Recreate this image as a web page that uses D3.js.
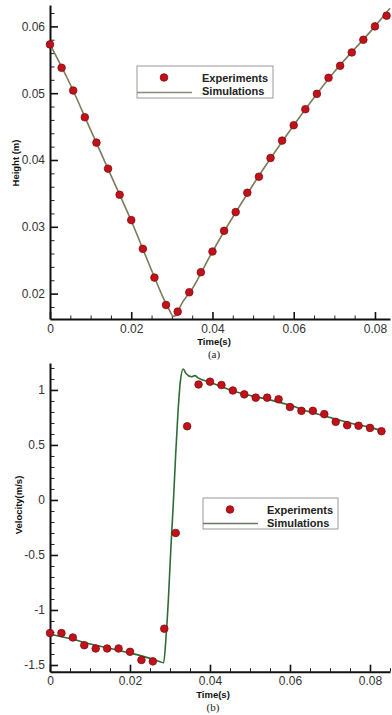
<!DOCTYPE html>
<html>
<head>
<meta charset="utf-8">
<script src="https://cdn.jsdelivr.net/npm/d3@7"></script>
<style>
  html, body { margin: 0; padding: 0; background: #fff; }
  svg { display: block; }
</style>
</head>
<body>
<svg id="chart" width="392" height="715"></svg>
<script>
// ---- Panel (a): bubble height ----
const timeExp = [0, 0.00286, 0.00571, 0.00857, 0.01143, 0.01429, 0.01714, 0.02, 0.02286, 0.02571,
                 0.02857, 0.03143, 0.03429, 0.03714, 0.04, 0.04286, 0.04571, 0.04857, 0.05143, 0.05429,
                 0.05714, 0.06, 0.06286, 0.06571, 0.06857, 0.07143, 0.07429, 0.07714, 0.08, 0.08286];
const heightExp = [0.0573, 0.0538, 0.0504, 0.0464, 0.0426, 0.0387, 0.0348, 0.0310, 0.0267, 0.0224,
                   0.0183, 0.0173, 0.0202, 0.0232, 0.0263, 0.0294, 0.0322, 0.0351, 0.0375, 0.0403,
                   0.0429, 0.0452, 0.0476, 0.0499, 0.0523, 0.0541, 0.0561, 0.0580, 0.0600, 0.0616];
const timeSimA = [0, 0.005, 0.01, 0.015, 0.02, 0.025, 0.028, 0.0295, 0.0303, 0.0312, 0.032, 0.035,
                  0.04, 0.05, 0.06, 0.07, 0.08, 0.0837];
const heightSim = [0.0573, 0.0513, 0.0445, 0.0377, 0.0309, 0.0235, 0.0192, 0.0174, 0.0166, 0.0168,
                   0.0180, 0.0207, 0.0263, 0.0363, 0.0452, 0.0532, 0.0600, 0.0627];

// ---- Panel (b): velocity ----
const velocityExp = [-1.21, -1.21, -1.25, -1.32, -1.35, -1.35, -1.35, -1.38, -1.455, -1.467,
                     -1.17, -0.30, 0.67, 1.05, 1.075, 1.045, 0.995, 0.96, 0.93, 0.93,
                     0.915, 0.845, 0.81, 0.81, 0.78, 0.71, 0.68, 0.675, 0.655, 0.625];
const timeSimB = [0, 0.005, 0.01, 0.015, 0.02, 0.025, 0.0275, 0.0284, 0.029, 0.0296, 0.0302,
                  0.0308, 0.0314, 0.032, 0.0326, 0.0333, 0.034, 0.0354, 0.0362, 0.037, 0.04,
                  0.045, 0.05, 0.055, 0.06, 0.065, 0.07, 0.075, 0.08, 0.0838];
const velocitySim = [-1.22, -1.26, -1.31, -1.35, -1.39, -1.44, -1.47, -1.48, -1.25, -0.9, -0.45,
                     -0.05, 0.4, 0.8, 1.08, 1.19, 1.15, 1.12, 1.13, 1.11, 1.07,
                     1.0, 0.95, 0.91, 0.86, 0.80, 0.75, 0.70, 0.66, 0.62];

// ---- Axis ticks and labels ----
const xTicks = [0, 0.02, 0.04, 0.06, 0.08];
const xTickLabels = ["0", "0.02", "0.04", "0.06", "0.08"];
const yTicksA = [0.02, 0.03, 0.04, 0.05, 0.06];
const yTickLabelsA = ["0.02", "0.03", "0.04", "0.05", "0.06"];
const yTicksB = [-1.5, -1, -0.5, 0, 0.5, 1];
const yTickLabelsB = ["-1.5", "-1", "-0.5", "0", "0.5", "1"];
const seriesNames = ["Experiments", "Simulations"];

const svg = d3.select("#chart");
const FONT = "'Liberation Sans', Arial, Helvetica, sans-serif";

function drawPanel(cfg) {
  const g = svg.append("g");
  const x = d3.scaleLinear().domain(cfg.xDomain).range(cfg.xRange);
  const y = d3.scaleLinear().domain(cfg.yDomain).range(cfg.yRange);
  const x0 = cfg.xRange[0], yb = cfg.yRange[0];

  // minor ticks
  const xMinor = d3.range(0, cfg.xDomain[1] + 1e-9, 0.005).filter(v => !cfg.xTicks.some(t => Math.abs(t - v) < 1e-9));
  const yMinor = d3.range(Math.ceil(cfg.yDomain[0] / cfg.yMinorStep) * cfg.yMinorStep, cfg.yDomain[1], cfg.yMinorStep)
    .filter(v => !cfg.yTicks.some(t => Math.abs(t - v) < 1e-9));

  g.append("g").attr("transform", `translate(0,${yb})`)
    .call(d3.axisBottom(x).tickValues(xMinor).tickSize(-3.5).tickSizeOuter(0).tickFormat(""))
    .call(a => a.select(".domain").remove())
    .call(a => a.selectAll("line").attr("stroke", "#222").attr("stroke-width", 1));
  g.append("g").attr("transform", `translate(${x0},0)`)
    .call(d3.axisLeft(y).tickValues(yMinor).tickSize(-4.5).tickSizeOuter(0).tickFormat(""))
    .call(a => a.select(".domain").remove())
    .call(a => a.selectAll("line").attr("stroke", "#222").attr("stroke-width", 1));

  // major ticks + labels
  g.append("g").attr("transform", `translate(0,${yb})`)
    .call(d3.axisBottom(x).tickValues(cfg.xTicks).tickSize(-7).tickSizeOuter(0).tickPadding(cfg.xPad)
      .tickFormat((d, i) => cfg.xLabels[i]))
    .call(a => a.select(".domain").attr("stroke", "#111").attr("stroke-width", 2))
    .call(a => a.selectAll("line").attr("stroke", "#111").attr("stroke-width", 1.6))
    .call(a => a.selectAll("text").attr("font-family", FONT).attr("font-size", 12).attr("fill", "#333"));
  g.append("g").attr("transform", `translate(${x0},0)`)
    .call(d3.axisLeft(y).tickValues(cfg.yTicks).tickSize(-8).tickSizeOuter(0).tickPadding(5)
      .tickFormat((d, i) => cfg.yLabels[i]))
    .call(a => a.select(".domain").attr("stroke", "#111").attr("stroke-width", 2))
    .call(a => a.selectAll("line").attr("stroke", "#111").attr("stroke-width", 1.6))
    .call(a => a.selectAll("text").attr("font-family", FONT).attr("font-size", 12).attr("fill", "#333"));

  // simulation curve
  const line = d3.line().x(d => x(d[0])).y(d => y(d[1])).curve(d3.curveMonotoneX);
  g.append("path")
    .datum(cfg.simX.map((t, i) => [t, cfg.simY[i]]))
    .attr("d", line)
    .attr("fill", "none")
    .attr("stroke", cfg.lineColor)
    .attr("stroke-width", 1.6);

  // experimental points
  g.selectAll("circle.exp")
    .data(cfg.expX.map((t, i) => [t, cfg.expY[i]]))
    .join("circle")
    .attr("class", "exp")
    .attr("cx", d => x(d[0]))
    .attr("cy", d => y(d[1]))
    .attr("r", 3.8)
    .attr("fill", "#c0121a")
    .attr("stroke", "#860a0e")
    .attr("stroke-width", 0.8);

  // axis titles
  g.append("text")
    .attr("x", cfg.xTitlePos[0]).attr("y", cfg.xTitlePos[1])
    .attr("text-anchor", "middle")
    .attr("font-family", FONT).attr("font-size", 9.5).attr("font-weight", "bold").attr("fill", "#111")
    .text("Time(s)");
  g.append("text")
    .attr("transform", `translate(${cfg.yTitlePos[0]},${cfg.yTitlePos[1]}) rotate(-90)`)
    .attr("text-anchor", "middle")
    .attr("font-family", FONT).attr("font-size", 9.5).attr("font-weight", "bold").attr("fill", "#111")
    .text(cfg.yTitle);
  g.append("text")
    .attr("x", cfg.tagPos[0]).attr("y", cfg.tagPos[1])
    .attr("text-anchor", "middle")
    .attr("font-family", "'Liberation Serif', 'Times New Roman', serif").attr("font-size", 11).attr("fill", "#222")
    .text(cfg.tag);

  // legend
  const L = cfg.legend;
  const lg = g.append("g").attr("transform", `translate(${L.x},${L.y})`);
  lg.append("rect").attr("width", L.w).attr("height", L.h)
    .attr("fill", "#fff").attr("stroke", "#9a9a9a").attr("stroke-width", 1);
  lg.append("circle").attr("cx", 27).attr("cy", 11.5).attr("r", 3.8)
    .attr("fill", "#c0121a").attr("stroke", "#860a0e").attr("stroke-width", 0.8);
  lg.append("line").attr("x1", 0).attr("x2", 55).attr("y1", L.h - 5.5).attr("y2", L.h - 5.5)
    .attr("stroke", cfg.legendLine).attr("stroke-width", 1.6);
  lg.selectAll("text.lbl").data(seriesNames).join("text")
    .attr("class", "lbl")
    .attr("x", L.tx).attr("y", (d, i) => 15.5 + i * 13.5)
    .attr("font-family", FONT).attr("font-size", 11).attr("font-weight", "bold").attr("fill", "#222")
    .text(d => d);
}

drawPanel({
  xDomain: [0, 0.0837], xRange: [50, 390],
  yDomain: [0.0162, 0.0632], yRange: [319, 5],
  xTicks: xTicks, xLabels: xTickLabels, xPad: 5.5,
  yTicks: yTicksA, yLabels: yTickLabelsA, yMinorStep: 0.002,
  expX: timeExp, expY: heightExp, simX: timeSimA, simY: heightSim,
  lineColor: "#7c7b5c", legendLine: "#8a8a78",
  xTitlePos: [214, 344.5], yTitlePos: [18.5, 163], yTitle: "Height (m)",
  tagPos: [214, 357.5], tag: "(a)",
  legend: { x: 137, y: 66, w: 136, h: 32, tx: 65 }
});

drawPanel({
  xDomain: [0, 0.085], xRange: [50, 390],
  yDomain: [-1.561, 1.245], yRange: [671.7, 363],
  xTicks: xTicks, xLabels: xTickLabels, xPad: 5,
  yTicks: yTicksB, yLabels: yTickLabelsB, yMinorStep: 0.1,
  expX: timeExp, expY: velocityExp, simX: timeSimB, simY: velocitySim,
  lineColor: "#2f6b36", legendLine: "#6a7a6a",
  xTitlePos: [213, 697.5], yTitlePos: [22, 505], yTitle: "Velocity(m/s)",
  tagPos: [213, 711], tag: "(b)",
  legend: { x: 203, y: 498, w: 135, h: 31, tx: 64 }
});
</script>
</body>
</html>
